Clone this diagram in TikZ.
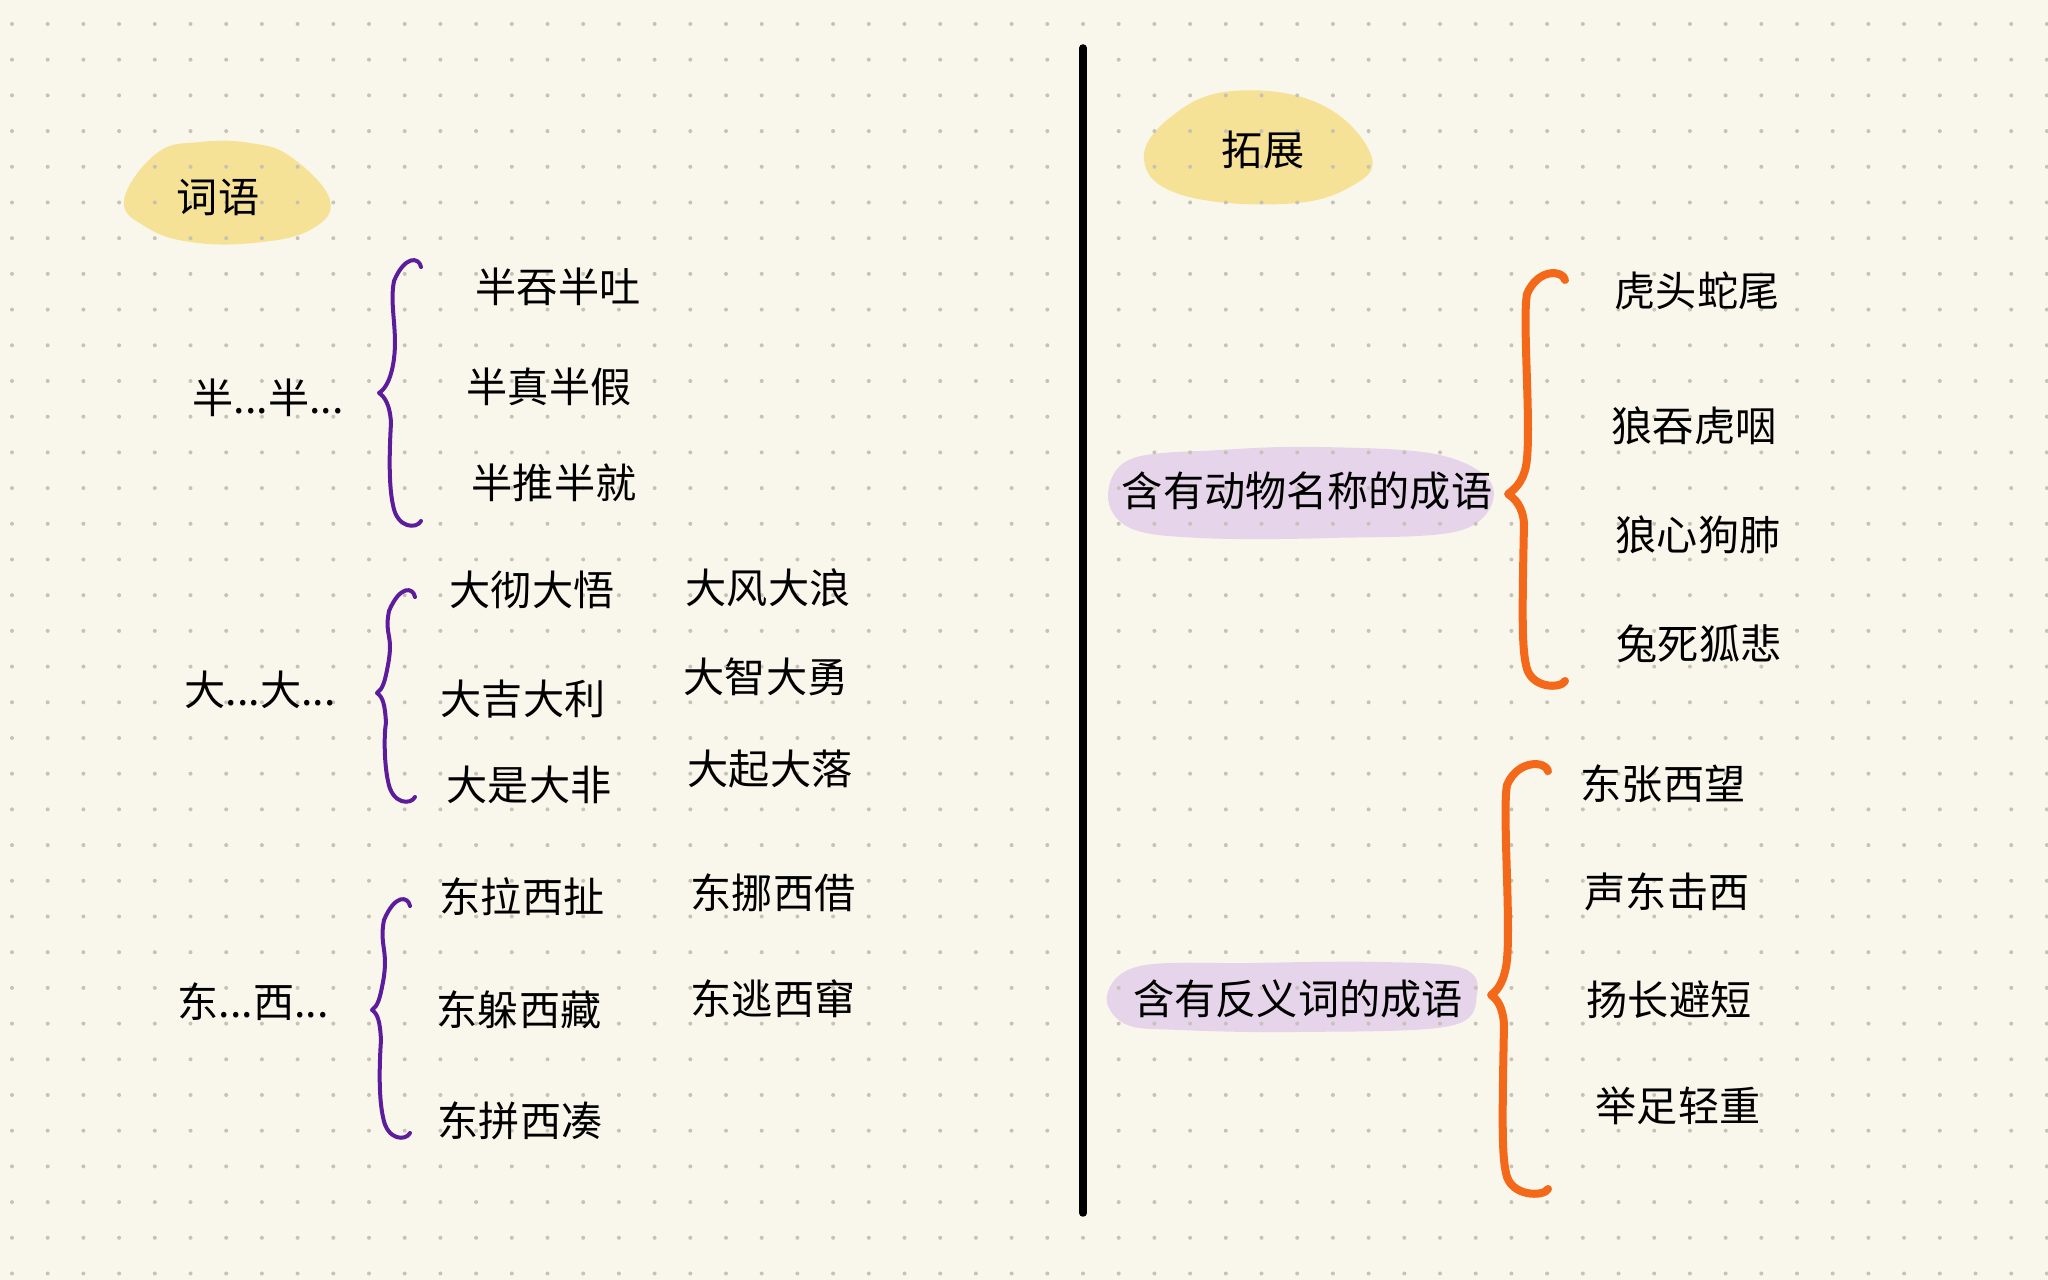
\documentclass[tikz,border=0pt]{standalone}
\usepackage{fontspec}
\setmainfont{Noto Sans CJK SC}
\usetikzlibrary{positioning}

\definecolor{paper}{HTML}{F9F7EC}
\definecolor{griddot}{HTML}{C6C2B6}
\definecolor{hlyellow}{HTML}{F6E296}
\definecolor{hlpurple}{HTML}{E6D4EA}
\definecolor{bracepurple}{HTML}{5C1C9C}
\definecolor{braceorange}{HTML}{F4681A}

% hand drawn brace: style, tip x, tip y, top y, bottom y, spine x, hook x
\newcommand{\handbrace}[7]{%
  \draw[#1] (#7,#4+10)
    .. controls (#7-2,#4) and (#6+12,#4-2) .. (#6+1,#4+24)
    .. controls (#6-4,#4+50) and (#6+6,#3-60) .. (#6,#3-28)
    .. controls (#6-3,#3-12) and (#2+6,#3-4) .. (#2,#3)
    .. controls (#2+6,#3+4) and (#6-3,#3+12) .. (#6-2,#3+30)
    .. controls (#6-4,#5-70) and (#6-4,#5-40) .. (#6,#5-22)
    .. controls (#6+4,#5+2) and (#7-4,#5+2) .. (#7,#5-6);}

\begin{document}
\begin{tikzpicture}[x=0.01cm,y=-0.01cm,line cap=round,line join=round,
    word/.style={font=\fontsize{11.7}{14}\selectfont,inner sep=0pt},
    purplebrace/.style={draw=bracepurple,line width=0.04cm},
    orangebrace/.style={draw=braceorange,line width=0.08cm}]

  \useasboundingbox (0,0) rectangle (2048,1280);
  \fill[paper] (0,0) rectangle (2048,1280);

  % highlight blobs
  \fill[hlyellow] plot[smooth cycle,tension=0.7] coordinates
    {(124,200) (157,153) (200,142) (250,143) (291,157) (330,200) (310,230) (253,243) (190,242) (146,227)};
  \fill[hlyellow] plot[smooth cycle,tension=0.7] coordinates
    {(1144,160) (1172,116) (1233,91) (1320,104) (1371,155) (1350,187) (1284,204) (1182,195)};
  \fill[hlpurple] plot[smooth cycle,tension=0.6] coordinates
    {(1108,496) (1131,459) (1220,450) (1320,447) (1440,455) (1493,487) (1462,530) (1330,538) (1200,538) (1130,528)};
  \fill[hlpurple] plot[smooth cycle,tension=0.6] coordinates
    {(1107,995) (1140,966) (1250,963) (1380,962) (1462,968) (1477,994) (1450,1026) (1300,1032) (1180,1030) (1125,1024)};

  % dot grid
  \foreach \i in {0,...,57} {
    \foreach \j in {0,...,35} {
      \fill[griddot] (12+35.7*\i,24+35.7*\j) circle (0.2mm);
    }
  }

  % divider
  \coordinate (divtop) at (1083,48);
  \coordinate (divbot) at (1083,1213);
  \draw[line width=0.075cm] (divtop) -- (divbot);

  % left half
  \node[word] (ci)    at (218,197)  {词语};
  \node[word] (ban)   at (268,398)  {半...半...};
  \node[word] (ban1)  at (558,287)  {半吞半吐};
  \node[word] (ban2)  at (549,387)  {半真半假};
  \node[word] (ban3)  at (554,483)  {半推半就};

  \node[word] (da)    at (260,690)  {大...大...};
  \node[word] (da1)   at (532,590)  {大彻大悟};
  \node[word] (da2)   at (523,699)  {大吉大利};
  \node[word] (da3)   at (529,785)  {大是大非};
  \node[word] (da4)   at (768,588)  {大风大浪};
  \node[word] (da5)   at (766,677)  {大智大勇};
  \node[word] (da6)   at (770,769)  {大起大落};

  \node[word] (dong)  at (253,1002) {东...西...};
  \node[word] (dong1) at (522,897)  {东拉西扯};
  \node[word] (dong2) at (519,1010) {东躲西藏};
  \node[word] (dong3) at (520,1121) {东拼西凑};
  \node[word] (dong4) at (773,893)  {东挪西借};
  \node[word] (dong5) at (773,999)  {东逃西窜};

  % right half
  \node[word] (tz)    at (1263,150) {拓展};
  \node[word] (dw)    at (1307,491) {含有动物名称的成语};
  \node[word] (dw1)   at (1697,291) {虎头蛇尾};
  \node[word] (dw2)   at (1694,426) {狼吞虎咽};
  \node[word] (dw3)   at (1698,535) {狼心狗肺};
  \node[word] (dw4)   at (1699,644) {兔死狐悲};

  \node[word] (fy)    at (1298,999) {含有反义词的成语};
  \node[word] (fy1)   at (1663,784) {东张西望};
  \node[word] (fy2)   at (1667,892) {声东击西};
  \node[word] (fy3)   at (1669,1000){扬长避短};
  \node[word] (fy4)   at (1678,1106){举足轻重};

  % braces
  \handbrace{purplebrace}{379}{393}{257}{527}{393}{421}
  \handbrace{purplebrace}{377}{693}{587}{803}{388}{415}
  \handbrace{purplebrace}{372}{1010}{896}{1139}{383}{410}
  \handbrace{orangebrace}{1508}{494}{270}{687}{1526}{1565}
  \handbrace{orangebrace}{1491}{995}{761}{1195}{1506}{1548}
\end{tikzpicture}
\end{document}
